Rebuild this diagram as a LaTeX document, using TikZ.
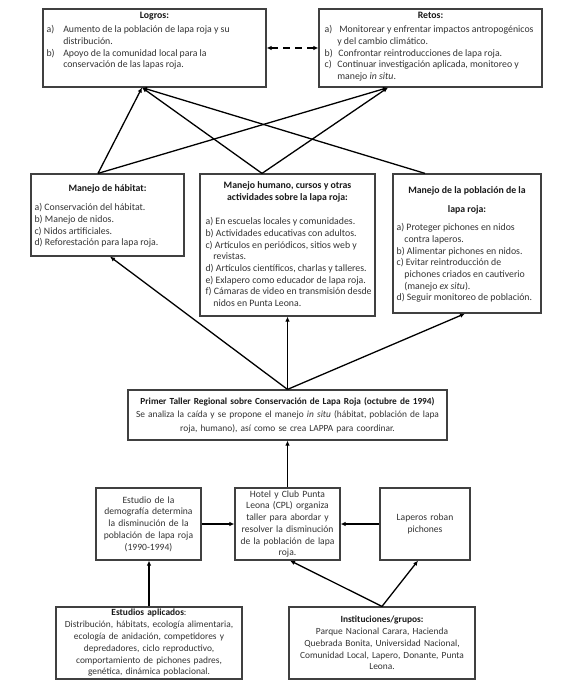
\documentclass[tikz,border=0pt]{standalone}
\usepackage{fontspec}
\setmainfont{Carlito}
\usetikzlibrary{arrows.meta}
\begin{document}
\begin{tikzpicture}[x=1pt,y=-1pt,
  box/.style={draw=black!75, line width=1.2pt, rectangle, inner sep=0pt, align=center,
              font=\fontsize{9.6}{11.7}\selectfont, text=black!80},
  txt/.style={inner sep=0pt, align=left, font=\fontsize{9.8}{11.7}\selectfont, text=black!80},
  ttl/.style={inner sep=0pt, align=center, font=\fontsize{9.8}{12.3}\selectfont\bfseries, text=black!90},
  arr/.style={line width=1.3pt, -{Latex[length=5pt,width=4.5pt]}},
  darr/.style={line width=1.3pt, dash pattern=on 7pt off 5pt, {Latex[length=5pt,width=4.5pt]}-{Latex[length=5pt,width=4.5pt]}},
]
\useasboundingbox (0,0) rectangle (574,692);
\fill[white] (0,0) rectangle (574,692);

% ---- top row
\node[box, minimum width=223pt, minimum height=78pt] (logros) at (154.5,48) {};
\node[ttl, anchor=north] (logrosT) at ([yshift=-4pt]logros.north) {Logros:};
\node[txt, anchor=north west] (logrosL) at ([xshift=4pt,yshift=-17pt]logros.north west)
  {\makebox[1.7em][l]{a)}Aumento de la población de lapa roja y su\\
   \hspace*{1.7em}distribución.\\
   \makebox[1.7em][l]{b)}Apoyo de la comunidad local para la\\
   \hspace*{1.7em}conservación de las lapas roja.};

\node[box, minimum width=223pt, minimum height=78pt] (retos) at (430.5,48) {};
\node[ttl, anchor=north] (retosT) at ([yshift=-4pt]retos.north) {Retos:};
\node[txt, anchor=north west] (retosL) at ([xshift=6pt,yshift=-17pt]retos.north west)
  {\makebox[1.5em][l]{a)}Monitorear y enfrentar impactos antropogénicos\\
   \hspace*{1.3em}y del cambio climático.\\
   \makebox[1.4em][l]{b)}Confrontar reintroducciones de lapa roja.\\
   \makebox[1.3em][l]{c)}Continuar investigación aplicada, monitoreo y\\
   \hspace*{1.3em}manejo \emph{in situ}.};

% ---- middle row
\node[box, minimum width=153pt, minimum height=82pt] (hab) at (107.5,215) {};
\node[ttl, anchor=north] (habT) at ([yshift=-11pt]hab.north) {Manejo de hábitat:};
\node[txt, anchor=north west] (habL) at ([xshift=4pt,yshift=-30pt]hab.north west)
  {a) Conservación del hábitat.\\
   b) Manejo de nidos.\\
   c) Nidos artificiales.\\
   d) Reforestación para lapa roja.};

\node[box, minimum width=175pt, minimum height=142pt] (hum) at (287.5,245) {};
\node[ttl, anchor=north] (humT) at ([yshift=-8pt]hum.north)
  {Manejo humano, cursos y otras\\ actividades sobre la lapa roja:};
\node[txt, anchor=north west] (humL) at ([xshift=6pt,yshift=-44pt]hum.north west)
  {a) En escuelas locales y comunidades.\\
   b) Actividades educativas con adultos.\\
   c) Artículos en periódicos, sitios web y\\
   \hspace*{0.8em}revistas.\\
   d) Artículos científicos, charlas y talleres.\\
   e) Exlapero como educador de lapa roja.\\
   f) Cámaras de video en transmisión desde\\
   \hspace*{0.8em}nidos en Punta Leona.};

\node[box, minimum width=148pt, minimum height=139pt] (pob) at (467,243.5) {};
\node[ttl, anchor=north, font=\fontsize{9.8}{19}\selectfont\bfseries] (pobT) at ([yshift=-13pt]pob.north)
  {Manejo de la población de la\\ lapa roja:};
\node[txt, anchor=north west] (pobL) at ([xshift=4pt,yshift=-50pt]pob.north west)
  {a) Proteger pichones en nidos\\
   \hspace*{0.8em}contra laperos.\\
   b) Alimentar pichones en nidos.\\
   c) Evitar reintroducción de\\
   \hspace*{0.8em}pichones criados en cautiverio\\
   \hspace*{0.8em}(manejo \emph{ex situ}).\\
   d) Seguir monitoreo de población.};

% ---- taller
\node[box, minimum width=319pt, minimum height=50pt, text width=319pt,
      font=\fontsize{9.4}{13.5}\selectfont] (taller) at (287.5,415)
  {{\fontsize{9.3}{13.5}\selectfont\bfseries\color{black!90}Primer Taller Regional sobre Conservación de Lapa Roja (octubre de 1994)}\\
   Se analiza la caída y se propone el manejo \emph{in situ} (hábitat, población de lapa\\
   roja, humano), así como se crea LAPPA para coordinar.};

% ---- bottom row
\node[box, minimum width=105pt, minimum height=72pt, text width=105pt] (estudio) at (148.5,524)
  {Estudio de la\\ demografía determina\\ la disminución de la\\ población de lapa roja\\ (1990-1994)};
\node[box, minimum width=105pt, minimum height=72pt, text width=105pt] (hotel) at (287.5,524)
  {Hotel y Club Punta\\ Leona (CPL) organiza\\ taller para abordar y\\ resolver la disminución\\ de la población de lapa\\ roja.};
\node[box, minimum width=90pt, minimum height=72pt, text width=90pt] (laperos) at (425,524)
  {Laperos roban\\ pichones};

\node[box, minimum width=186pt, minimum height=72pt, text width=186pt,
      font=\fontsize{9.4}{11.8}\selectfont] (aplic) at (149,643)
  {{\bfseries\color{black!90}Estudios aplicados}:\\
   Distribución, hábitats, ecología alimentaria,\\
   ecología de anidación, competidores y\\
   depredadores, ciclo reproductivo,\\
   comportamiento de pichones padres,\\
   genética, dinámica poblacional.};
\node[box, minimum width=186pt, minimum height=72pt, text width=186pt,
      font=\fontsize{9.4}{11.8}\selectfont] (inst) at (382,643)
  {{\bfseries\color{black!90}Instituciones/grupos:}\\
   Parque Nacional Carara, Hacienda\\
   Quebrada Bonita, Universidad Nacional,\\
   Comunidad Local, Lapero, Donante, Punta\\
   Leona.};

% ---- connectors
\draw[darr] (logros.east) -- (retos.west);

\draw[arr] ([xshift=-9.5pt]hab.north) -- ([xshift=-12.5pt]logros.south);
\draw[arr] ([xshift=-9.5pt]hab.north) -- ([xshift=-42.5pt]retos.south);
\draw[arr] ([xshift=-25.5pt]hum.north) -- ([xshift=-12.5pt]logros.south);
\draw[arr] ([xshift=-25.5pt]hum.north) -- ([xshift=-42.5pt]retos.south);
\draw[arr] ([xshift=-42pt]pob.north) -- ([xshift=-12.5pt]logros.south);

\draw[arr] (taller.north) -- ([xshift=2.5pt]hab.south);
\draw[arr] (taller.north) -- (hum.south);
\draw[arr] (taller.north) -- ([xshift=-2pt]pob.south);

\draw[arr] (hotel.north) -- (taller.south);
\draw[arr] (estudio.east) -- (hotel.west);
\draw[arr] (laperos.west) -- (hotel.east);

\draw[arr] (aplic.north) -- (aplic.north |- estudio.south);
\draw[arr] (inst.north) -- ([xshift=2.5pt]hotel.south);
\draw[arr] (inst.north) -- ([xshift=-7pt]laperos.south);
\end{tikzpicture}
\end{document}
